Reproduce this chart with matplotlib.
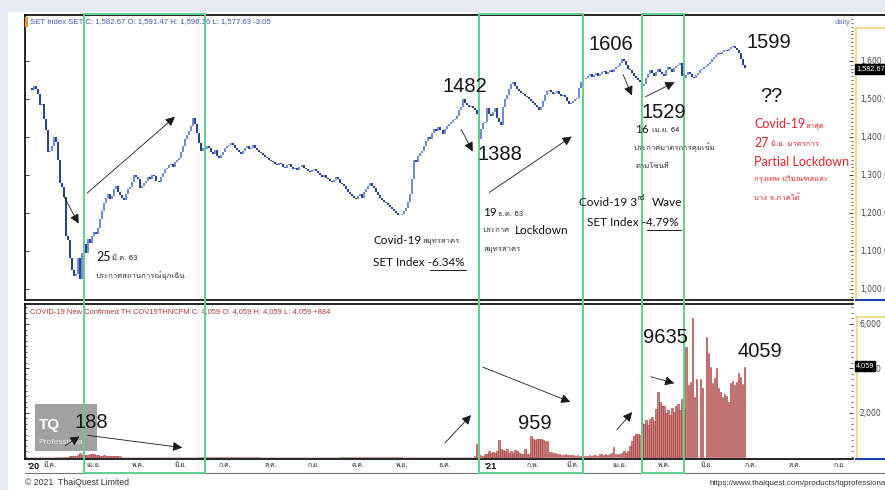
import numpy as np
import pandas as pd
import matplotlib
matplotlib.use("Agg")
import matplotlib.pyplot as plt
from matplotlib import font_manager
from matplotlib.ft2font import FT2Font
from matplotlib.patches import Rectangle, FancyArrowPatch
from matplotlib.lines import Line2D
from matplotlib.ticker import MultipleLocator, FixedLocator, FuncFormatter

# ---------------- data (daily, one value per business day from 2020-02-17) ----------------
start_day = "2020-02-17"

set_feb20 = [1530, 1523, 1534, 1527, 1514, 1484, 1486, 1448, 1419, 1360]
set_mar20 = [1364, 1377, 1400, 1388, 1339, 1280, 1269, 1241, 1140, 1129, 1082, 1050, 1033, 1040, 1081,
             1025, 1095, 1118, 1095, 1131, 1120, 1140]
set_apr20 = [1150, 1145, 1160, 1183, 1205, 1225, 1240, 1250, 1238, 1245, 1262, 1270, 1255, 1248, 1240,
             1235, 1250, 1262, 1268, 1282, 1300, 1295]
set_may20 = [1290, 1265, 1270, 1280, 1285, 1295, 1290, 1300, 1298, 1285, 1282, 1295, 1305, 1315, 1318,
             1325, 1330, 1320, 1335, 1340, 1345]
set_jun20 = [1360, 1375, 1395, 1405, 1415, 1430, 1450, 1435, 1410, 1385, 1362, 1372, 1368, 1375, 1370,
             1360, 1355, 1365, 1350, 1345, 1352, 1360]
set_jul20 = [1370, 1375, 1380, 1384, 1378, 1372, 1365, 1360, 1355, 1362, 1370, 1375, 1368, 1372, 1378,
             1370, 1365, 1360, 1358, 1352, 1348, 1345, 1340]
set_aug20 = [1338, 1335, 1330, 1325, 1332, 1328, 1320, 1318, 1325, 1330, 1322, 1315, 1318, 1312, 1320,
             1326, 1318, 1315, 1310, 1308, 1312]
set_sep20 = [1315, 1310, 1305, 1300, 1295, 1300, 1292, 1290, 1285, 1282, 1288, 1295, 1290, 1280, 1275,
             1270, 1262, 1255, 1250, 1245, 1240, 1237]
set_oct20 = [1245, 1250, 1240, 1255, 1262, 1270, 1278, 1272, 1265, 1255, 1248, 1240, 1235, 1230, 1225,
             1220, 1215, 1210, 1205, 1200, 1195, 1194]
set_nov20 = [1198, 1205, 1212, 1230, 1250, 1290, 1340, 1335, 1350, 1358, 1362, 1375, 1390, 1400, 1395,
             1410, 1420, 1415, 1425, 1418, 1408]
set_dec20 = [1420, 1430, 1435, 1440, 1445, 1448, 1455, 1470, 1480, 1500, 1490, 1485, 1480, 1482, 1476,
             1470, 1460, 1395, 1420, 1437, 1440, 1475, 1460]
set_jan21 = [1455, 1465, 1475, 1450, 1440, 1432, 1480, 1500, 1510, 1525, 1540, 1545, 1535, 1525, 1520,
             1515, 1512, 1508, 1505, 1500, 1495]
set_feb21 = [1490, 1485, 1478, 1472, 1480, 1495, 1510, 1520, 1524, 1518, 1512, 1515, 1520, 1512, 1508,
             1510, 1505, 1495, 1486, 1490]
set_mar21 = [1495, 1500, 1503, 1530, 1545, 1552, 1555, 1560, 1566, 1558, 1562, 1568, 1560, 1565, 1570,
             1574, 1566, 1570, 1576, 1572, 1578, 1585, 1588]
set_apr21 = [1595, 1604, 1600, 1590, 1580, 1575, 1568, 1560, 1555, 1550, 1545, 1535, 1540, 1555, 1565,
             1575, 1568, 1560, 1572, 1580, 1570, 1565]
set_may21 = [1560, 1575, 1585, 1578, 1570, 1582, 1588, 1590, 1595, 1560, 1555, 1562, 1570, 1565, 1558,
             1555, 1562, 1568, 1575, 1580, 1585]
set_jun21 = [1588, 1592, 1598, 1605, 1610, 1615, 1620, 1618, 1624, 1628, 1625, 1632, 1636, 1640, 1635,
             1628, 1620, 1605, 1590, 1582.67]

cov_feb20 = [0, 0, 0, 1, 0, 2, 0, 3, 0, 2]
cov_mar20 = [1, 0, 0, 4, 0, 0, 1, 6, 11, 5, 33, 30, 35, 60, 89, 188, 106, 107, 111, 91, 136, 127]
cov_apr20 = [120, 104, 103, 51, 38, 111, 54, 50, 28, 34, 30, 29, 28, 27, 19, 15, 13, 15, 9, 7, 9, 7]
cov_may20 = [6, 3, 18, 1, 3, 3, 7, 2, 7, 3, 1, 0, 0, 3, 2, 3, 2, 11, 3, 11, 1]
cov_jun20 = [8, 2, 1, 2, 0, 0, 0, 4, 1, 2, 4, 5, 0, 0, 0, 0, 0, 0, 4, 0, 0, 0]
cov_jul20 = [7, 3, 3, 0, 0, 7, 1, 0, 0, 1, 0, 1, 1, 0, 0, 4, 0, 0, 1, 7, 0, 1, 0]
cov_aug20 = [6, 0, 4, 1, 5, 2, 0, 4, 1, 2, 3, 0, 2, 1, 5, 0, 2, 1, 3, 6, 3]
cov_sep20 = [1, 1, 4, 1, 4, 6, 2, 1, 3, 2, 0, 3, 9, 1, 2, 8, 5, 2, 1, 3, 5, 1]
cov_oct20 = [3, 7, 4, 8, 1, 2, 5, 3, 6, 2, 3, 10, 4, 4, 9, 2, 7, 3, 5, 6, 8, 1]
cov_nov20 = [4, 9, 3, 6, 10, 3, 2, 8, 4, 6, 4, 7, 5, 9, 3, 1, 6, 4, 8, 3, 11]
cov_dec20 = [6, 3, 2, 4, 3, 10, 9, 4, 5, 7, 9, 6, 17, 6, 20, 30, 576, 130, 110, 46, 144, 155, 250]
cov_jan21 = [200, 210, 180, 250, 745, 365, 305, 250, 340, 200, 280, 190, 330, 250, 160, 140, 120, 380,
             150, 130, 959]
cov_feb21 = [819, 756, 802, 834, 800, 770, 720, 700, 230, 210, 190, 180, 150, 121, 110, 98, 130, 105,
             96, 85]
cov_mar21 = [90, 60, 80, 50, 60, 65, 40, 48, 70, 55, 80, 75, 60, 120, 150, 100, 130, 110, 140, 180, 430,
             150, 120]
cov_apr21 = [150, 200, 250, 200, 270, 490, 720, 960, 1030, 1050, 1000, 1550, 1470, 1650, 1460, 1700,
             1790, 1620, 2150, 2950, 2500, 2300]
cov_may21 = [2300, 2000, 2100, 1900, 2200, 2050, 2300, 2400, 2100, 2600, 2100, 4970, 3270, 3400, 6270,
             2690, 3500, 0, 3500, 3130, 0]
cov_jun21 = [5420, 4700, 4070, 3360, 3580, 4030, 3130, 2910, 2690, 2820, 2730, 2460, 3360, 3450, 3270,
             3400, 3800, 3630, 3310, 4059]

set_close = (set_feb20 + set_mar20 + set_apr20 + set_may20 + set_jun20 + set_jul20 + set_aug20 +
             set_sep20 + set_oct20 + set_nov20 + set_dec20 + set_jan21 + set_feb21 + set_mar21 +
             set_apr21 + set_may21 + set_jun21)
covid_new = (cov_feb20 + cov_mar20 + cov_apr20 + cov_may20 + cov_jun20 + cov_jul20 + cov_aug20 +
             cov_sep20 + cov_oct20 + cov_nov20 + cov_dec20 + cov_jan21 + cov_feb21 + cov_mar21 +
             cov_apr21 + cov_may21 + cov_jun21)

thai_months = ["ม.ค.", "ก.พ.", "มี.ค.", "เม.ย.", "พ.ค.", "มิ.ย.",
               "ก.ค.", "ส.ค.", "ก.ย.", "ต.ค.", "พ.ย.", "ธ.ค."]
set_ticks = [1000, 1100, 1200, 1300, 1400, 1500, 1600]
covid_ticks = [2000, 4000, 6000]

# highlighted periods (green frames)
boxes = [("2020-03-25", "2020-06-17"), ("2020-12-24", "2021-03-08"), ("2021-04-16", "2021-05-17")]

# ---------------- fonts ----------------
def thai_fonts():
    found = []
    for f in font_manager.fontManager.ttflist:
        if "CJK" in f.name:
            continue
        try:
            if 0x0E01 in FT2Font(f.fname).get_charmap():
                found.append(f.name)
        except Exception:
            pass
    return list(dict.fromkeys(found))

TH = thai_fonts()
F_LATO = ["Lato"] + TH + ["DejaVu Sans"]
F_ARIAL = ["Liberation Sans"] + TH + ["DejaVu Sans"]
F_THAI = TH + ["Lato", "DejaVu Sans"]

# ---------------- figure / layout helpers ----------------
W, H = 885, 490
fig = plt.figure(figsize=(W / 100, H / 100), dpi=100, facecolor="white")


def fx(x):
    return x / W


def fy(y):
    return 1 - y / H


def txt(x, y, s, size=8, family=F_LATO, color="#111111", **kw):
    kw.setdefault("ha", "left")
    kw.setdefault("va", "center")
    return fig.text(fx(x), fy(y), s, fontsize=size, family=family, color=color, **kw)


def hline(x0, x1, y, color="black", lw=1.0, z=5):
    fig.add_artist(Line2D([fx(x0), fx(x1)], [fy(y), fy(y)], color=color, lw=lw, zorder=z))


def vline(x, y0, y1, color="black", lw=1.0, z=5):
    fig.add_artist(Line2D([fx(x), fx(x)], [fy(y0), fy(y1)], color=color, lw=lw, zorder=z))


def arrow(p0, p1):
    fig.add_artist(FancyArrowPatch((fx(p0[0]), fy(p0[1])), (fx(p1[0]), fy(p1[1])),
                                   transform=fig.transFigure,
                                   arrowstyle="-|>,head_length=0.7,head_width=0.35",
                                   mutation_scale=8, lw=0.6, color="#1a1a1a", zorder=20))


# outer frame strips of the screenshot
fig.add_artist(Rectangle((0, fy(12)), 1, 12 / H, transform=fig.transFigure,
                         color="#e6ebf3", lw=0, zorder=0))
fig.add_artist(Rectangle((0, 0), fx(8), 1, transform=fig.transFigure,
                         color="#e6ebf3", lw=0, zorder=0))

L, R = 25, 853
ax1 = fig.add_axes([fx(L), fy(300), fx(R - L), (300 - 15) / H])
ax2 = fig.add_axes([fx(L), fy(459), fx(R - L), (459 - 304) / H])

axis_days = pd.bdate_range(start_day, "2021-09-30")
n = len(set_close)
idx = np.arange(n)
xlim = (-2.28, 408.8)

# ---------------- SET candles ----------------
close = np.array(set_close, dtype=float)
opens = np.r_[close[0], close[:-1]]
up = close >= opens
ax1.vlines(idx[up], opens[up], close[up], color="#6a86d2", lw=1.35)
ax1.vlines(idx[~up], close[~up], opens[~up], color="#1c3596", lw=1.35)
ax1.set_xlim(*xlim)
ax1.set_ylim(971, 1721)
ax1.set_xticks([])
ax1.yaxis.set_major_locator(FixedLocator(set_ticks))
ax1.yaxis.set_minor_locator(MultipleLocator(10))
ax1.yaxis.set_major_formatter(FuncFormatter(lambda v, p: f"{v:,.2f}"))
ax1.tick_params(axis="y", which="both", direction="in", left=True, right=True,
                labelleft=False, labelright=True, colors="#444444", labelsize=5.5, pad=5)
ax1.tick_params(axis="y", which="major", length=3, width=0.7)
ax1.tick_params(axis="y", which="minor", left=False, length=1.5, width=0.6)
for s in ("top", "right"):
    ax1.spines[s].set_visible(False)
ax1.spines["left"].set_linewidth(1.2)
ax1.spines["bottom"].set_linewidth(1.2)

# ---------------- COVID bars ----------------
cases = np.array(covid_new, dtype=float)
ax2.bar(np.arange(len(cases)), cases, width=0.72, color="#c98080", edgecolor="#a83434", lw=0.4)
ax2.set_xlim(*xlim)
ax2.set_ylim(-90, 6902)
ax2.yaxis.set_major_locator(FixedLocator(covid_ticks))
ax2.yaxis.set_minor_locator(MultipleLocator(250))
ax2.yaxis.set_major_formatter(FuncFormatter(lambda v, p: f"{v:,.0f}"))
ax2.tick_params(axis="y", which="both", direction="in", left=True, right=True,
                labelleft=False, labelright=True, colors="#444444", labelsize=5.5, pad=5)
ax2.tick_params(axis="y", which="major", length=3, width=0.7)
ax2.tick_params(axis="y", which="minor", length=1.5, width=0.6)
ax2.spines["right"].set_visible(False)
for s in ("top", "left", "bottom"):
    ax2.spines[s].set_linewidth(1.2)

# month labels on the shared date axis
mkey = axis_days.year * 12 + axis_days.month
starts = np.flatnonzero(np.r_[True, mkey[1:] != mkey[:-1]])[1:]
labels = ["'21" if axis_days[i].month == 1 else thai_months[axis_days[i].month - 1] for i in starts]
ax2.set_xticks(starts)
ax2.set_xticklabels(labels)
ax2.tick_params(axis="x", length=0, pad=2.5, labelsize=5, colors="#333333")
for t in ax2.get_xticklabels():
    t.set_family(F_THAI)
    if t.get_text() == "'21":
        t.set_family(F_ARIAL)
        t.set_fontweight("bold")
        t.set_fontsize(6.5)
        t.set_color("#111111")
txt(27, 466, "'20", size=6.5, family=F_ARIAL, weight="bold")

# ---------------- frame lines ----------------
hline(L, W, 15, lw=1.2)
hline(L, W, 473, color="#777777", lw=0.8)
vline(856, 28, 300, color="#f0d27a", lw=1.2)
hline(856, W, 28, color="#f0d27a", lw=1.2)
vline(857, 317, 458, color="#f0d27a", lw=1.2)
hline(857, W, 317, color="#f0d27a", lw=1.2)
hline(856, W, 300, color="#2040b0", lw=1.5)
hline(856, W, 459, color="#2040b0", lw=1.5)

# green highlight frames spanning both panels
for a, b in boxes:
    i0 = axis_days.get_loc(pd.Timestamp(a))
    i1 = axis_days.get_loc(pd.Timestamp(b))
    px0 = fig.transFigure.inverted().transform(ax2.transData.transform((i0, 0)))[0]
    px1 = fig.transFigure.inverted().transform(ax2.transData.transform((i1, 0)))[0]
    fig.add_artist(Rectangle((px0, fy(473)), px1 - px0, (473 - 14) / H, transform=fig.transFigure,
                             fill=False, edgecolor="#5fd08e", lw=1.4, zorder=15))

# ---------------- header texts ----------------
fig.add_artist(Rectangle((fx(25), fy(27)), fx(3), 10 / H, transform=fig.transFigure,
                         color="#f29a1c", lw=0, zorder=6))
txt(30, 22, "SET Index SET C: 1,582.67 O: 1,591.47 H: 1,596.16 L: 1,577.63 -3.05",
    size=5.6, family=F_ARIAL, color="#3f58b8")
txt(835, 22, "daily", size=5.4, family=F_ARIAL, color="#5d72c4")
txt(30, 312, "COVID-19 New Confirmed TH COV19THNCFM C: 4,059 O: 4,059 H: 4,059 L: 4,059 +884",
    size=5.4, family=F_ARIAL, color="#b03535")
txt(856, 69, "1,582.67", size=5.3, family=F_ARIAL, color="white",
    bbox=dict(boxstyle="square,pad=0.15", fc="black", ec="black"), zorder=30)
txt(856, 366, "4,059", size=5.3, family=F_ARIAL, color="white",
    bbox=dict(boxstyle="square,pad=0.15", fc="black", ec="black"), zorder=30)

# TQ watermark
fig.add_artist(Rectangle((fx(35), fy(451)), fx(62), 47 / H, transform=fig.transFigure,
                         color="#8a8a8a", alpha=0.8, lw=0, zorder=8))
txt(39, 425, "TQ", size=11, family=F_ARIAL, color="white", weight="bold", zorder=9)
txt(38, 443, "Professional", size=6, family=F_ARIAL, color="#e8e8e8", zorder=9)

# ---------------- annotations ----------------
big = dict(size=14.5, family=F_ARIAL, color="#151515", zorder=25)
txt(465, 86, "1482", ha="center", **big)
txt(500, 154, "1388", ha="center", **big)
txt(611, 45, "1606", ha="center", **big)
txt(664, 112, "1529", ha="center", **big)
txt(769, 43, "1599", ha="center", **big)
txt(771, 97, "??", ha="center", **big)
txt(91, 422, "188", ha="center", **big)
txt(535, 423, "959", ha="center", **big)
txt(665, 337, "9635", ha="center", **big)
txt(760, 351, "4059", ha="center", **big)

th = dict(size=5.5, family=F_THAI, color="#333333", zorder=25)
txt(96, 257, "25", size=9, zorder=25)
txt(112, 258, "มี.ค. 63", **th)
txt(96, 275, "ประกาศสถานการณ์ฉุกเฉิน", **th)

txt(373, 240, "Covid-19", size=8.5, zorder=25)
txt(422, 241, "สมุทรสาคร", **th)
txt(373, 262, "SET Index -6.34%", size=8.5, zorder=25)
hline(430, 466, 270, color="#222222", lw=0.7, z=25)

txt(483, 213, "19", size=8.5, zorder=25)
txt(498, 214, "ธ.ค. 63", **th)
txt(483, 231, "ประกาศ", **th)
txt(515, 230, "Lockdown", size=8.5, zorder=25)
txt(483, 249, "สมุทรสาคร", **th)

txt(637, 202, "Covid-19 3", size=8.5, ha="right", zorder=25)
txt(638, 197, "rd", size=5.5, zorder=25)
txt(652, 202, "Wave", size=8.5, zorder=25)
txt(587, 222, "SET Index -4.79%", size=8.5, zorder=25)
hline(647, 681, 230, color="#222222", lw=0.7, z=25)

txt(635, 129, "16", size=8.5, zorder=25)
txt(652, 130, "เม.ย. 64", **th)
txt(634, 147, "ประกาศมาตรการคุมเข้ม", **th)
txt(635, 167, "ตามโซนสี", **th)

red = "#e8232b"
thr = dict(size=5.5, family=F_THAI, color=red, zorder=25)
txt(754, 124, "Covid-19", size=9, color=red, zorder=25)
txt(805, 125, "ล่าสุด", **thr)
txt(754, 143, "27", size=9, color=red, zorder=25)
txt(771, 144, "มิ.ย. มาตรการ", **thr)
txt(754, 162, "Partial Lockdown", size=9, color=red, zorder=25)
txt(754, 179, "กรุงเทพ ปริมณฑลและ", **thr)
txt(754, 198, "บาง จ.ภาคใต้", **thr)

# arrows
arrow((62, 193), (80, 226))
arrow((85, 195), (177, 115))
arrow((460, 127), (474, 154))
arrow((487, 194), (574, 135))
arrow((622, 72), (633, 98))
arrow((643, 98), (677, 81))
arrow((63, 447), (82, 435))
arrow((85, 435), (185, 448))
arrow((443, 445), (473, 413))
arrow((480, 366), (573, 403))
arrow((615, 432), (634, 410))
arrow((648, 376), (677, 384))

# footer
txt(25, 482, "\u00a9 2021  ThaiQuest Limited", size=6.3, family=F_ARIAL, color="#333333")
txt(710, 483, "https://www.thaiquest.com/products/tqprofessional", size=5.8, family=F_ARIAL,
    color="#333333")

fig.savefig("out.png", dpi=100)
